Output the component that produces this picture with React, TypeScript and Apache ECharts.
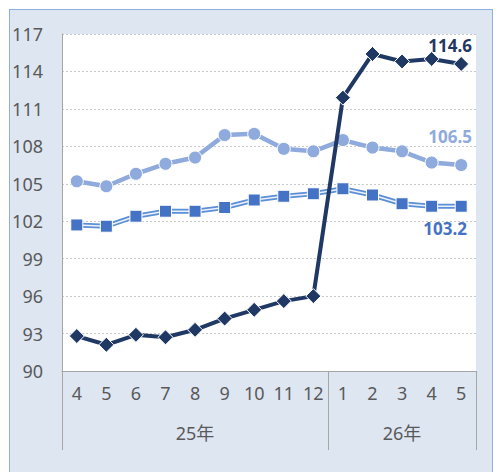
import React, { useEffect, useRef } from "react";
import * as echarts from "echarts";

const months = ["4", "5", "6", "7", "8", "9", "10", "11", "12", "1", "2", "3", "4", "5"];
const groups = [
  { label: "25年", count: 9 },
  { label: "26年", count: 5 },
];
const navySeries = [92.8, 92.1, 92.9, 92.7, 93.3, 94.2, 94.9, 95.6, 96.0, 111.9, 115.4, 114.8, 115.0, 114.6];
const circleSeries = [105.2, 104.8, 105.8, 106.6, 107.1, 108.9, 109.0, 107.8, 107.6, 108.5, 107.9, 107.6, 106.7, 106.5];
const squareSeries = [101.7, 101.6, 102.4, 102.8, 102.8, 103.1, 103.7, 104.0, 104.2, 104.6, 104.1, 103.4, 103.2, 103.2];

const NAVY = "#1f3864";
const LIGHT = "#8faadc";
const BLUE = "#4472c4";
const TEXT = "#595959";
const FONT = "Noto Sans";

export default function App() {
  const ref = useRef<HTMLDivElement>(null);
  useEffect(() => {
    if (!ref.current) return;
    const chart = echarts.init(ref.current, undefined, { renderer: "svg" });
    const gl = 62, gr = 20, gt = 34, gb = 101;
    const W = 496, H = 472;
    const plotW = W - gl - gr;
    const plotBottom = H - gb;
    const catW = plotW / months.length;
    const graphics: any[] = [];
    let acc = 0;
    const bounds = [0];
    groups.forEach((g) => {
      const start = acc;
      acc += g.count;
      bounds.push(acc);
      graphics.push({
        type: "text",
        x: gl + ((start + acc) / 2) * catW,
        y: 433,
        style: { text: g.label, fill: TEXT, font: `18px "${FONT}", "Noto Sans CJK JP"`, align: "center", verticalAlign: "middle" },
      });
    });
    bounds.forEach((b) => {
      const x = Math.round(gl + b * catW) + 0.5;
      graphics.push({
        type: "line",
        shape: { x1: x, y1: plotBottom, x2: x, y2: 450 },
        style: { stroke: "#a6a6a6", lineWidth: 1 },
      });
    });
    const lastLabel = (color: string, pos: string, offset: number[]) => ({
      show: true,
      position: pos,
      offset,
      color,
      fontWeight: "bold",
      fontSize: 17,
      fontFamily: FONT,
      formatter: (p: any) => (p.dataIndex === months.length - 1 ? String(p.value.toFixed(1)) : ""),
    });
    chart.setOption({
      animation: false,
      textStyle: { fontFamily: FONT },
      grid: { left: gl, right: gr, top: gt, bottom: gb, show: true, backgroundColor: "#ffffff", borderWidth: 0 },
      graphic: graphics,
      xAxis: {
        type: "category",
        data: months,
        boundaryGap: true,
        axisLine: { show: true, lineStyle: { color: "#a6a6a6", width: 1 } },
        axisTick: { show: false },
        axisLabel: { color: TEXT, fontSize: 18, margin: 13, fontFamily: FONT, interval: 0 },
      },
      yAxis: {
        type: "value",
        min: 90,
        max: 117,
        interval: 3,
        axisLine: { show: true, lineStyle: { color: "#a6a6a6", width: 1 } },
        axisTick: { show: false },
        axisLabel: { color: TEXT, fontSize: 18, margin: 19, fontFamily: FONT },
        splitLine: { show: true, lineStyle: { color: "#c8c8c8", type: [2, 2], width: 1 } },
      },
      series: [
        {
          type: "line",
          data: circleSeries,
          symbol: "circle",
          symbolSize: 13,
          lineStyle: { color: LIGHT, width: 4.5 },
          itemStyle: { color: LIGHT, borderColor: "#ffffff", borderWidth: 1 },
          label: lastLabel(LIGHT, "top", [-11, -8]),
          z: 2,
        },
        {
          type: "line",
          data: squareSeries,
          symbol: "none",
          lineStyle: { color: "#5b8fd6", width: 5 },
          z: 3,
          silent: true,
        },
        {
          type: "line",
          data: squareSeries,
          symbol: "none",
          lineStyle: { color: "#eaf1fb", width: 1.5 },
          z: 4,
          silent: true,
        },
        {
          type: "line",
          data: squareSeries,
          symbol: "rect",
          symbolSize: 12,
          lineStyle: { width: 0, opacity: 0 },
          itemStyle: { color: BLUE, borderColor: "#ffffff", borderWidth: 1 },
          label: lastLabel(BLUE, "bottom", [-16, 2]),
          z: 5,
        },
        {
          type: "line",
          data: navySeries,
          symbol: "diamond",
          symbolSize: 15,
          lineStyle: { color: NAVY, width: 4 },
          itemStyle: { color: NAVY, borderColor: "#ffffff", borderWidth: 1 },
          label: lastLabel(NAVY, "top", [-11, 3]),
          z: 6,
        },
      ],
    });
    return () => chart.dispose();
  }, []);
  return (
    <div style={{ position: "fixed", left: 0, top: 0, width: 496, height: 472, overflow: "hidden", background: "#ffffff" }}>
      <div
        style={{
          position: "absolute",
          left: 9,
          top: 9,
          width: 484,
          height: 480,
          boxSizing: "border-box",
          border: "1.5px solid #8eb0e0",
          background: "#dee6f2",
        }}
      />
      <div ref={ref} style={{ position: "absolute", left: 0, top: 0, width: 496, height: 472 }} />
    </div>
  );
}
